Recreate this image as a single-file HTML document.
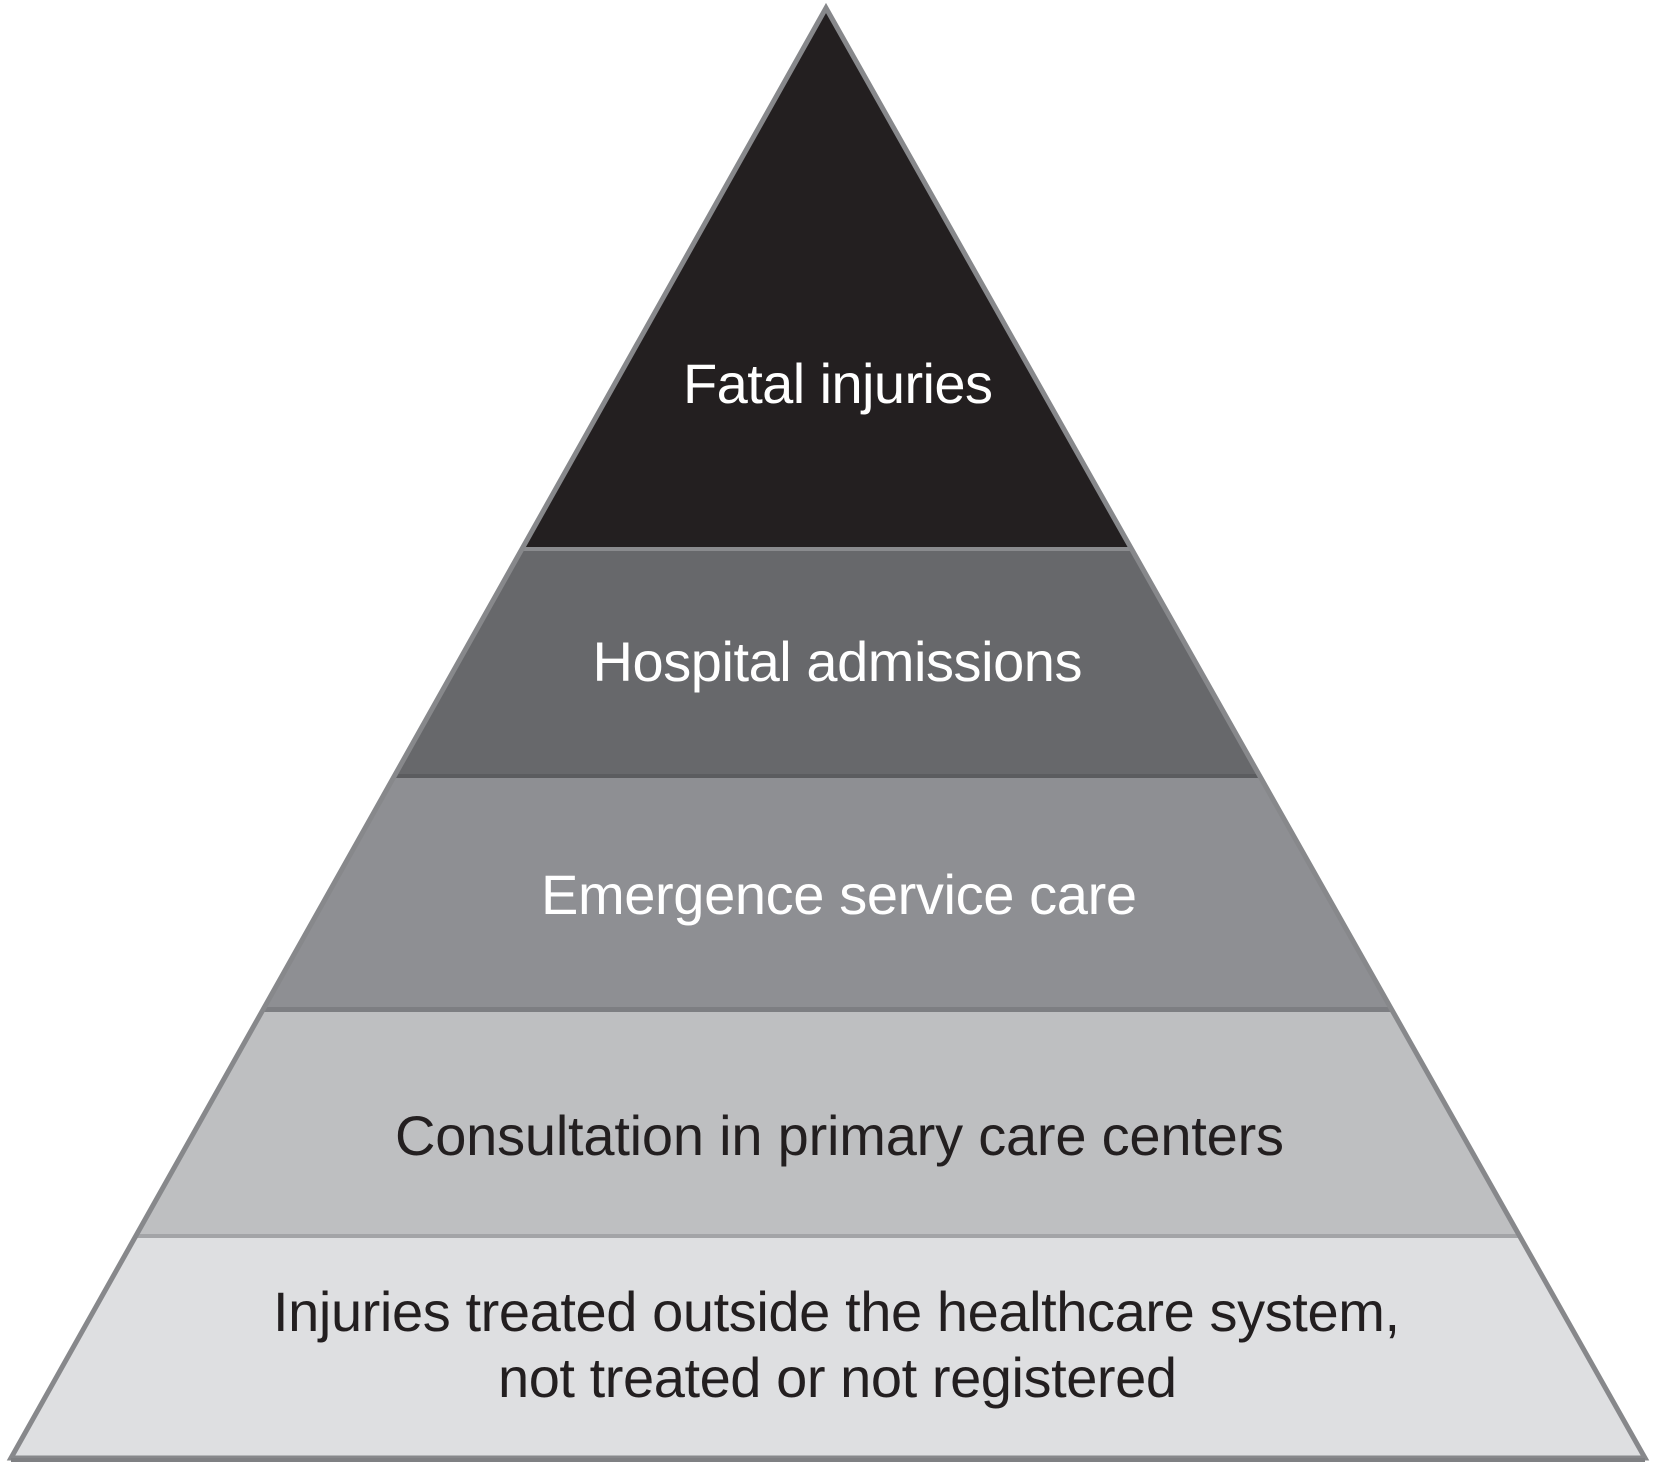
<!DOCTYPE html>
<html>
<head>
<meta charset="utf-8">
<style>
  html, body { margin: 0; padding: 0; background: #ffffff; }
  body { width: 1659px; height: 1468px; overflow: hidden; }
  svg { display: block; }
  text { font-family: "Liberation Sans", Arial, Helvetica, sans-serif; font-size: 56px; }
</style>
</head>
<body>
<svg width="1659" height="1468" viewBox="0 0 1659 1468" xmlns="http://www.w3.org/2000/svg">
  <defs>
    <clipPath id="tri">
      <polygon points="826,8 11,1458 1645,1458"/>
    </clipPath>
  </defs>
  <rect x="0" y="0" width="1659" height="1468" fill="#ffffff"/>
  <g clip-path="url(#tri)">
    <rect x="0" y="0" width="1659" height="549" fill="#231f20"/>
    <rect x="0" y="549" width="1659" height="229" fill="#67686b"/>
    <rect x="0" y="778" width="1659" height="232" fill="#8e8f93"/>
    <rect x="0" y="1010" width="1659" height="227" fill="#bebfc1"/>
    <rect x="0" y="1237" width="1659" height="230" fill="#dedfe1"/>
    <rect x="0" y="547" width="1659" height="4" fill="#8a8b8e"/>
    <rect x="0" y="774" width="1659" height="4" fill="#5b5c5f"/>
    <rect x="0" y="1007" width="1659" height="5" fill="#7d7e82"/>
    <rect x="0" y="1234" width="1659" height="4" fill="#a3a4a7"/>
  </g>
  <polygon points="826,8 11,1458 1645,1458" fill="none" stroke="#87888b" stroke-width="5" stroke-linejoin="miter" stroke-miterlimit="10"/>
  <line x1="11" y1="1460" x2="1645" y2="1460" stroke="#7f8083" stroke-width="4"/>

  <text x="838" y="403" fill="#ffffff" text-anchor="middle" textLength="310">Fatal injuries</text>
  <text x="837.5" y="681" fill="#ffffff" text-anchor="middle" textLength="490">Hospital admissions</text>
  <text x="839" y="914" fill="#ffffff" text-anchor="middle" textLength="596">Emergence service care</text>
  <text x="839.5" y="1155" fill="#231f20" text-anchor="middle" textLength="889">Consultation in primary care centers</text>
  <text x="836.5" y="1331" fill="#231f20" text-anchor="middle" textLength="1127">Injuries treated outside the healthcare system,</text>
  <text x="837.5" y="1397" fill="#231f20" text-anchor="middle" textLength="679">not treated or not registered</text>
</svg>
</body>
</html>
